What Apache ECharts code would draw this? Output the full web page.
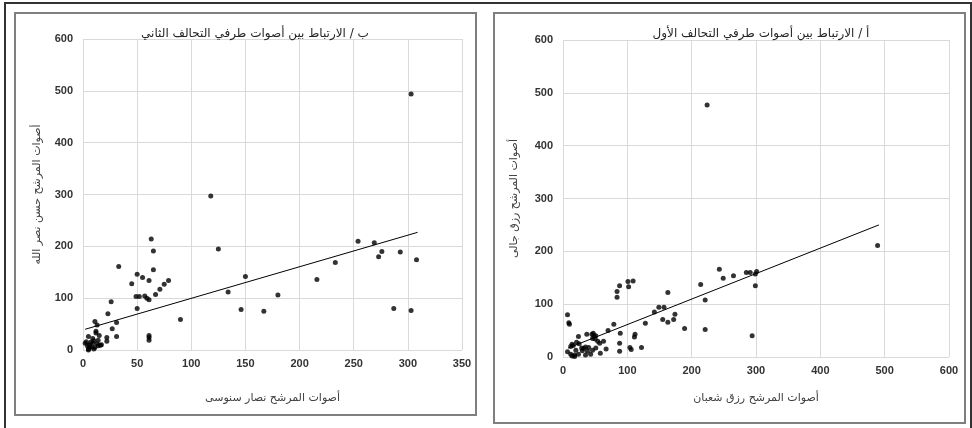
<!DOCTYPE html>
<html>
<head>
<meta charset="utf-8">
<script src="https://cdn.jsdelivr.net/npm/echarts@6/dist/echarts.min.js"></script>
<style>
  html, body { margin: 0; padding: 0; background: #fff; }
  #chart { width: 972px; height: 428px; }
</style>
</head>
<body>
<div id="chart"></div>
<script>
// ب : second alliance (left panel)
var titleB = 'ب / الارتباط بين أصوات طرفي التحالف الثاني';
var xNameB = 'أصوات المرشح نصار سنوسى';
var yNameB = 'أصوات المرشح حسن نصر الله';
var pointsB = [
  [118, 297], [303, 494], [125, 195], [150, 142], [134, 112], [146, 78], [167, 75],
  [180, 106], [216, 136], [233, 169], [254, 210], [269, 207], [273, 180], [276, 190],
  [293, 189], [287, 80], [303, 76], [308, 174], [90, 59],
  [63, 214], [65, 191], [65, 155], [33, 161], [50, 146], [55, 140], [61, 134], [45, 128],
  [79, 134], [75, 127], [71, 117], [67, 107], [49, 103], [52, 103], [57, 104], [59, 100],
  [61, 97], [26, 93], [50, 80], [23, 70], [61, 28], [61, 24], [61, 19], [11, 55], [31, 53],
  [13, 48], [27, 41], [12, 36], [31, 26], [22, 24], [22, 17],
  [5, 26], [9, 22], [14, 19], [17, 10], [16, 9], [3, 16], [2, 13], [6, 10], [8, 6], [5, 2],
  [9, 13], [14, 8], [11, 5], [6, 5], [5, 0], [10, 2], [15, 28], [12, 33], [4, 8], [7, 15],
  [10, 18], [13, 12]
];
var trendB = [[2, 40], [309, 227]];
var xTicksB = { min: 0, max: 350, interval: 50 };

// أ : first alliance (right panel)
var titleA = 'أ / الارتباط بين أصوات طرفي التحالف الأول';
var xNameA = 'أصوات المرشح رزق شعبان';
var yNameA = 'أصوات المرشح رزق جالى';
var pointsA = [
  [224, 477], [489, 211],
  [7, 80], [9, 65], [10, 62],
  [101, 143], [109, 144], [102, 133], [88, 135], [84, 124], [84, 113],
  [79, 62], [70, 50], [128, 64], [89, 45], [88, 26], [88, 11],
  [112, 43], [111, 38], [104, 18], [106, 14], [122, 18],
  [24, 39], [37, 43], [45, 43], [47, 45], [48, 40], [46, 35], [50, 34], [51, 40],
  [14, 24], [12, 20], [25, 25], [29, 17], [32, 16], [35, 19], [40, 18], [54, 30], [57, 26],
  [63, 30], [51, 17], [67, 15], [21, 28], [16, 22],
  [7, 10], [12, 5], [18, 4], [24, 5], [35, 4], [43, 5], [58, 7], [20, 13], [38, 11], [46, 13],
  [14, 2], [18, 1], [30, 12],
  [142, 85], [149, 94], [157, 94], [155, 71], [163, 122], [163, 66], [172, 71], [174, 81],
  [189, 54], [214, 137], [221, 108], [221, 52], [243, 166], [249, 149], [265, 154],
  [285, 160], [291, 160], [294, 40], [299, 157], [301, 162], [299, 135]
];
var trendA = [[8, 17], [491, 250]];
var xTicksA = { min: 0, max: 600, interval: 100 };

var yTicks = { min: 0, max: 600, interval: 100 };

var arabicFont = '"DejaVu Sans", sans-serif';
var numFont = '"Liberation Sans", Arial, sans-serif';
var gridColor = '#d9d9d9';

function makeAxis(ticks, name, gap, isY) {
  return {
    type: 'value',
    min: ticks.min,
    max: ticks.max,
    interval: ticks.interval,
    name: name,
    nameLocation: 'middle',
    nameGap: gap,
    nameRotate: isY ? 90 : 0,
    nameTextStyle: { fontFamily: arabicFont, fontSize: 11, color: '#404040' },
    axisLine: { show: false },
    axisTick: { show: false },
    axisLabel: {
      fontFamily: numFont, fontSize: 11, fontWeight: 'bold', color: '#333',
      margin: isY ? 10 : 8
    },
    splitLine: { show: true, lineStyle: { color: gridColor, width: 1 } }
  };
}

var myChart = echarts.init(document.getElementById('chart'));

var option = {
  animation: false,
  backgroundColor: '#fff',
  title: [
    {
      text: titleB, left: 250, top: 23, textAlign: 'center',
      textStyle: { fontFamily: arabicFont, fontSize: 12, fontWeight: 'normal', color: '#262626' }
    },
    {
      text: titleA, left: 756, top: 23, textAlign: 'center',
      textStyle: { fontFamily: arabicFont, fontSize: 12, fontWeight: 'normal', color: '#262626' }
    }
  ],
  grid: [
    { left: 83, right: 510, top: 39, bottom: 78 },
    { left: 563, right: 23, top: 40, bottom: 71 }
  ],
  xAxis: [
    Object.assign(makeAxis(xTicksB, xNameB, 43, false), { gridIndex: 0 }),
    Object.assign(makeAxis(xTicksA, xNameA, 36, false), { gridIndex: 1 })
  ],
  yAxis: [
    Object.assign(makeAxis(yTicks, yNameB, 40, true), { gridIndex: 0 }),
    Object.assign(makeAxis(yTicks, yNameA, 43, true), { gridIndex: 1 })
  ],
  series: [
    {
      type: 'scatter', xAxisIndex: 0, yAxisIndex: 0, data: pointsB,
      symbolSize: 5, itemStyle: { color: '#000' }
    },
    {
      type: 'line', xAxisIndex: 0, yAxisIndex: 0, data: trendB,
      symbol: 'none', lineStyle: { color: '#000', width: 1 }
    },
    {
      type: 'scatter', xAxisIndex: 1, yAxisIndex: 1, data: pointsA,
      symbolSize: 5, itemStyle: { color: '#000' }
    },
    {
      type: 'line', xAxisIndex: 1, yAxisIndex: 1, data: trendA,
      symbol: 'none', lineStyle: { color: '#000', width: 1 }
    }
  ],
  graphic: [
    // outer frame
    {
      type: 'rect', shape: { x: 5, y: 3, width: 966, height: 440 },
      style: { fill: null, stroke: '#333', lineWidth: 2 }, silent: true
    },
    // chart area frames
    {
      type: 'rect', shape: { x: 15, y: 13, width: 461, height: 402 },
      style: { fill: null, stroke: '#7f7f7f', lineWidth: 2 }, silent: true
    },
    {
      type: 'rect', shape: { x: 494, y: 13, width: 471, height: 410 },
      style: { fill: null, stroke: '#7f7f7f', lineWidth: 2 }, silent: true
    }
  ]
};

myChart.setOption(option);
</script>
</body>
</html>
